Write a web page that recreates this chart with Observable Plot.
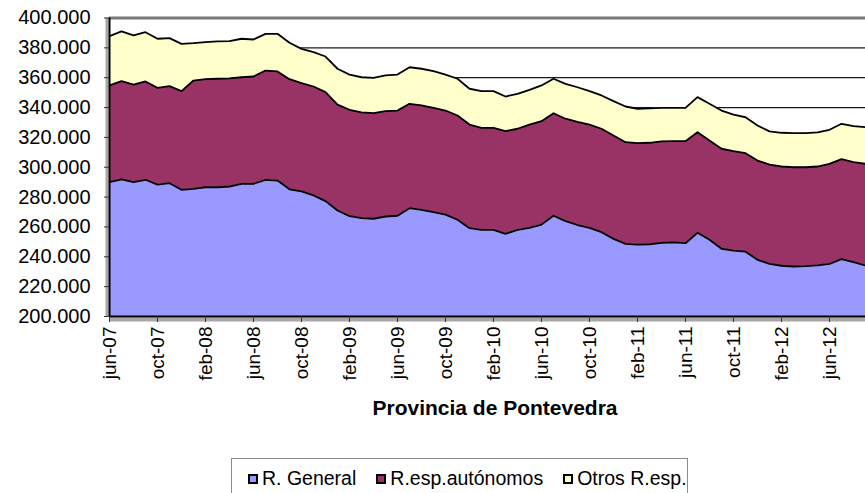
<!DOCTYPE html>
<html><head><meta charset="utf-8">
<script src="https://cdn.jsdelivr.net/npm/d3@7"></script>
<script src="https://cdn.jsdelivr.net/npm/@observablehq/plot@0.6"></script>
<style>
body{margin:0;background:#fff;font-family:"Liberation Sans",Arial,sans-serif;}
#wrap{position:relative;width:865px;height:493px;overflow:hidden;background:#fff;}
#chart{position:absolute;left:0;top:0;}
#title{position:absolute;left:0;width:990px;top:396px;text-align:center;font-weight:bold;font-size:21px;color:#000;}
#legend{position:absolute;left:231px;top:458px;width:457px;height:40px;border:1px solid #8a8a8a;box-sizing:border-box;display:flex;align-items:flex-start;padding-top:8px;padding-left:16px;font-size:19.5px;color:#000;}
.item{display:flex;align-items:center;margin-right:20px;white-space:nowrap;flex-shrink:0;}
.sw{flex:0 0 auto;width:6px;height:6px;border:2px solid #000;margin-right:4px;box-sizing:content-box;}
</style></head><body>
<div id="wrap"><div id="chart"></div><div id="title">Provincia de Pontevedra</div><div id="legend"></div></div>
<script>
const months = ["jun-07","jul-07","ago-07","sep-07","oct-07","nov-07","dic-07",
"ene-08","feb-08","mar-08","abr-08","may-08","jun-08","jul-08","ago-08","sep-08","oct-08","nov-08","dic-08",
"ene-09","feb-09","mar-09","abr-09","may-09","jun-09","jul-09","ago-09","sep-09","oct-09","nov-09","dic-09",
"ene-10","feb-10","mar-10","abr-10","may-10","jun-10","jul-10","ago-10","sep-10","oct-10","nov-10","dic-10",
"ene-11","feb-11","mar-11","abr-11","may-11","jun-11","jul-11","ago-11","sep-11","oct-11","nov-11","dic-11",
"ene-12","feb-12","mar-12","abr-12","may-12","jun-12","jul-12","ago-12","sep-12"];
const rGeneral = [290000,291800,290000,291600,288400,289300,284900,285500,286600,286600,
287100,288900,288900,291600,291100,285200,283800,281100,277300,271000,
267200,265900,265500,267000,267500,272600,271500,269900,268300,264800,
259200,258100,258100,255400,258100,259400,261600,267500,263900,261300,
259400,256500,252000,248700,248200,248400,249300,249600,249100,256100,
251400,245400,244200,243400,238000,235300,234000,233500,233700,234200,
235300,238400,236400,234200];
const rAutonomos = [64800,65900,65400,65900,64800,65000,66100,72600,72400,72700,
72400,71400,71900,73200,73100,73800,72500,73000,73000,71000,
71300,70800,70700,70600,70500,69900,69900,69900,69700,69900,
69400,68300,68300,68800,67700,69200,69300,68700,68600,69100,
69200,69300,69300,68100,67900,68000,68000,67900,68400,67400,
66500,67000,66600,66000,66500,66500,66500,66500,66300,66300,
67000,67000,67000,68100];
const otros = [33000,33300,32900,33000,32900,32200,31700,25000,24800,25000,
25000,25800,24800,24600,25200,24400,23000,23000,23900,24000,
23600,23600,23700,23900,24100,24500,24600,24600,24100,24600,
24000,24600,24600,23200,23400,23300,23900,23100,23400,23200,
22400,22300,23000,23900,23100,23000,22500,22300,22300,23500,
24600,25600,24500,24100,23500,22200,22600,22800,22800,22800,
22800,23700,24100,24500];
const seriesNames = ["R. General","R.esp.autónomos","Otros R.esp."];
const seriesColors = ["#9999FF","#993366","#FFFFCC"];
const yTicks = [200000,220000,240000,260000,280000,300000,320000,340000,360000,380000,400000];
const xTickEvery = 4;

const rows = months.map((m, i) => {
  const g = rGeneral[i], a = g + rAutonomos[i], t = a + otros[i];
  return {i, m, g, a, t};
});
const yMin = yTicks[0], yMax = yTicks[yTicks.length - 1];
const fmt = v => d3.format(",")(v).replace(/,/g, ".");
const xTicks = months.map((m, i) => i).filter(i => i % xTickEvery === 0);

const W = 865, H = 390, mL = 109, mT = 17.5, bottomY = 316;
const chart = Plot.plot({
  width: W, height: H,
  marginLeft: mL, marginRight: 0, marginTop: mT, marginBottom: H - bottomY,
  style: {fontFamily: "Liberation Sans, Arial, sans-serif", fontSize: "19px", background: "white", color: "#000"},
  x: {type: "linear", domain: [0, months.length - 1], range: [mL, W], axis: null, label: null},
  y: {domain: [yMin, yMax], axis: null, label: null},
  marks: [
    Plot.ruleY(yTicks.slice(1, -1), {stroke: "#1a1a1a", strokeWidth: 1.2}),
    Plot.ruleY([yMax], {stroke: "#7a7a7a", strokeWidth: 3}),
    Plot.areaY(rows, {x: "i", y1: yMin, y2: "g", fill: seriesColors[0]}),
    Plot.areaY(rows, {x: "i", y1: "g", y2: "a", fill: seriesColors[1]}),
    Plot.areaY(rows, {x: "i", y1: "a", y2: "t", fill: seriesColors[2]}),
    Plot.lineY(rows, {x: "i", y: "g", stroke: "#000", strokeWidth: 1.8}),
    Plot.lineY(rows, {x: "i", y: "a", stroke: "#000", strokeWidth: 1.8}),
    Plot.lineY(rows, {x: "i", y: "t", stroke: "#000", strokeWidth: 1.8}),
    Plot.ruleY([yMin], {dy: 3, stroke: "#a8a8a8", strokeWidth: 4}),
    Plot.ruleY([yMin], {stroke: "#000", strokeWidth: 2}),
    Plot.ruleX([0], {dx: -2.5, y1: yMin, y2: yMax, stroke: "#a8a8a8", strokeWidth: 3}),
    Plot.ruleX([0], {y1: yMin, y2: yMax, stroke: "#000", strokeWidth: 2}),
    Plot.axisY(yTicks, {tickFormat: fmt, tickSize: 5, tickPadding: 14, fontSize: 20, stroke: "#333", label: null}),
    Plot.axisX(xTicks, {tickFormat: i => months[i], tickRotate: -90, tickSize: 6, tickPadding: 4, fontSize: 19, stroke: "#333", label: null})
  ]
});
document.getElementById("chart").appendChild(chart);

const lg = document.getElementById("legend");
seriesNames.forEach((n, k) => {
  const it = document.createElement("div"); it.className = "item";
  const sw = document.createElement("div"); sw.className = "sw"; sw.style.background = seriesColors[k];
  const tx = document.createElement("span"); tx.textContent = n;
  it.appendChild(sw); it.appendChild(tx); lg.appendChild(it);
});
</script>
</body></html>
